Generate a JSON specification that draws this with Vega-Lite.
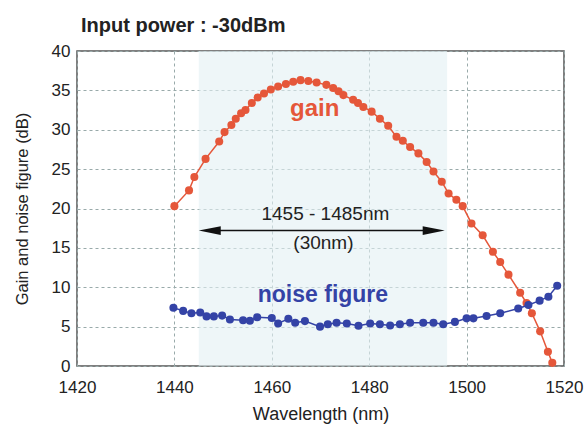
{
  "$schema": "https://vega.github.io/schema/vega-lite/v6.json",
  "autosize": "none",
  "width": 487,
  "height": 315,
  "padding": {"left": 77, "top": 51, "right": 21, "bottom": 59},
  "background": "white",
  "title": {"text": "Input power : -30dBm", "anchor": "start", "frame": "group", "fontSize": 20, "fontWeight": "bold", "font": "Liberation Sans", "color": "#222", "dx": 4, "offset": 6},
  "config": {
    "font": "Liberation Sans",
    "view": {"stroke": "#555", "strokeWidth": 1.5},
    "axis": {"grid": true, "gridColor": "#9aa", "gridDash": [3, 3], "gridWidth": 1, "ticks": false, "domain": false, "labelFontSize": 17, "labelColor": "#222", "titleFontSize": 18, "titleFontWeight": "normal", "titleColor": "#222"}
  },
  "datasets": {
    "gain": [
      {"wl": 1440.0, "db": 20.3}, {"wl": 1443.0, "db": 22.3}, {"wl": 1444.1, "db": 24.0}, {"wl": 1446.4, "db": 26.3},
      {"wl": 1449.2, "db": 28.5}, {"wl": 1450.3, "db": 29.7}, {"wl": 1451.7, "db": 30.6}, {"wl": 1452.6, "db": 31.4},
      {"wl": 1453.7, "db": 32.1}, {"wl": 1454.6, "db": 32.5}, {"wl": 1455.9, "db": 33.4}, {"wl": 1457.1, "db": 34.1},
      {"wl": 1458.4, "db": 34.6}, {"wl": 1459.8, "db": 35.1}, {"wl": 1461.3, "db": 35.5}, {"wl": 1462.9, "db": 35.8},
      {"wl": 1464.4, "db": 36.1}, {"wl": 1465.9, "db": 36.3}, {"wl": 1467.5, "db": 36.2}, {"wl": 1469.2, "db": 36.0},
      {"wl": 1471.2, "db": 35.7}, {"wl": 1472.6, "db": 35.3}, {"wl": 1473.7, "db": 34.9}, {"wl": 1474.7, "db": 34.4},
      {"wl": 1476.7, "db": 33.8}, {"wl": 1477.7, "db": 33.4}, {"wl": 1478.8, "db": 32.9}, {"wl": 1480.5, "db": 32.3},
      {"wl": 1482.2, "db": 31.4}, {"wl": 1483.9, "db": 30.5}, {"wl": 1485.6, "db": 29.1}, {"wl": 1486.9, "db": 28.6},
      {"wl": 1488.4, "db": 27.8}, {"wl": 1490.1, "db": 27.0}, {"wl": 1491.8, "db": 25.9}, {"wl": 1493.2, "db": 24.7},
      {"wl": 1494.9, "db": 23.4}, {"wl": 1496.3, "db": 21.9}, {"wl": 1497.9, "db": 21.1}, {"wl": 1499.2, "db": 20.3},
      {"wl": 1501.0, "db": 18.1}, {"wl": 1503.3, "db": 16.6}, {"wl": 1505.4, "db": 14.5}, {"wl": 1506.9, "db": 13.2},
      {"wl": 1508.6, "db": 11.6}, {"wl": 1511.0, "db": 9.3}, {"wl": 1512.3, "db": 8.0}, {"wl": 1513.4, "db": 6.7},
      {"wl": 1515.1, "db": 4.4}, {"wl": 1516.7, "db": 1.8}, {"wl": 1517.6, "db": 0.4}
    ],
    "nf": [
      {"wl": 1439.8, "db": 7.4}, {"wl": 1441.8, "db": 7.0}, {"wl": 1443.5, "db": 6.7}, {"wl": 1445.3, "db": 6.8},
      {"wl": 1446.6, "db": 6.3}, {"wl": 1448.1, "db": 6.3}, {"wl": 1449.8, "db": 6.4}, {"wl": 1451.4, "db": 5.9},
      {"wl": 1454.1, "db": 5.8}, {"wl": 1455.5, "db": 5.75}, {"wl": 1457.0, "db": 6.2}, {"wl": 1460.0, "db": 6.1},
      {"wl": 1461.3, "db": 5.4}, {"wl": 1463.4, "db": 6.0}, {"wl": 1464.8, "db": 5.5}, {"wl": 1466.8, "db": 5.7},
      {"wl": 1469.9, "db": 5.0}, {"wl": 1471.5, "db": 5.3}, {"wl": 1473.3, "db": 5.5}, {"wl": 1475.4, "db": 5.4},
      {"wl": 1477.8, "db": 5.1}, {"wl": 1480.2, "db": 5.4}, {"wl": 1482.2, "db": 5.3}, {"wl": 1484.3, "db": 5.15},
      {"wl": 1486.3, "db": 5.3}, {"wl": 1488.4, "db": 5.5}, {"wl": 1491.1, "db": 5.5}, {"wl": 1493.2, "db": 5.5},
      {"wl": 1495.2, "db": 5.3}, {"wl": 1497.6, "db": 5.6}, {"wl": 1500.0, "db": 6.05}, {"wl": 1501.4, "db": 6.05},
      {"wl": 1504.1, "db": 6.35}, {"wl": 1506.9, "db": 6.7}, {"wl": 1510.6, "db": 7.3}, {"wl": 1512.7, "db": 7.75},
      {"wl": 1515.0, "db": 8.3}, {"wl": 1516.8, "db": 8.8}, {"wl": 1518.6, "db": 10.2}
    ]
  },
  "encoding": {
    "x": {"field": "wl", "type": "quantitative", "scale": {"domain": [1420, 1520], "nice": false}, "axis": {"values": [1420, 1440, 1460, 1480, 1500, 1520], "format": "d", "title": "Wavelength (nm)", "labelPadding": 13, "titlePadding": 10, "labelFlush": false}},
    "y": {"field": "db", "type": "quantitative", "scale": {"domain": [0, 40], "nice": false}, "axis": {"values": [0, 5, 10, 15, 20, 25, 30, 35, 40], "title": "Gain and noise figure (dB)", "titleFontSize": 16.5, "labelPadding": 7, "titlePadding": 21, "labelFlush": false}}
  },
  "layer": [
    {
      "data": {"values": [{"wl": 1445, "wl2": 1496, "db": 0, "db2": 40}]},
      "mark": {"type": "rect", "color": "#e2f0f3", "opacity": 0.6},
      "encoding": {"x2": {"field": "wl2"}, "y2": {"field": "db2"}}
    },
    {
      "data": {"name": "gain"},
      "mark": {"type": "line", "color": "#e5573a", "strokeWidth": 1.5, "point": {"filled": true, "size": 65, "color": "#e5573a", "opacity": 1}}
    },
    {
      "data": {"name": "nf"},
      "mark": {"type": "line", "color": "#3443a6", "strokeWidth": 1.5, "point": {"filled": true, "size": 65, "color": "#3443a6", "opacity": 1}}
    },
    {
      "data": {"values": [{"wl": 1447, "wl2": 1493, "db": 17.2}]},
      "mark": {"type": "rule", "color": "#111", "strokeWidth": 1.5},
      "encoding": {"x2": {"field": "wl2"}}
    },
    {
      "data": {"values": [{"wl": 1445, "db": 17.2}]},
      "mark": {"type": "point", "filled": true, "color": "#111", "opacity": 1, "size": 484, "shape": "M 0 0 L 2 -0.4 L 2 0.4 Z"}
    },
    {
      "data": {"values": [{"wl": 1495.5, "db": 17.2}]},
      "mark": {"type": "point", "filled": true, "color": "#111", "opacity": 1, "size": 484, "shape": "M 0 0 L -2 -0.4 L -2 0.4 Z"}
    },
    {
      "data": {"values": [
        {"wl": 1471, "db": 19.3, "t": "1455 - 1485nm"},
        {"wl": 1470.6, "db": 15.6, "t": "(30nm)"}
      ]},
      "mark": {"type": "text", "fontSize": 19, "color": "#222", "baseline": "middle", "align": "center"},
      "encoding": {"text": {"field": "t"}}
    },
    {
      "data": {"values": [{"wl": 1468.8, "db": 32.6, "t": "gain"}]},
      "mark": {"type": "text", "fontSize": 24, "fontWeight": "bold", "color": "#e5573a", "baseline": "middle", "align": "center"},
      "encoding": {"text": {"field": "t"}}
    },
    {
      "data": {"values": [{"wl": 1470.5, "db": 9.0, "t": "noise figure"}]},
      "mark": {"type": "text", "fontSize": 23, "fontWeight": "bold", "color": "#3443a6", "baseline": "middle", "align": "center"},
      "encoding": {"text": {"field": "t"}}
    }
  ]
}
